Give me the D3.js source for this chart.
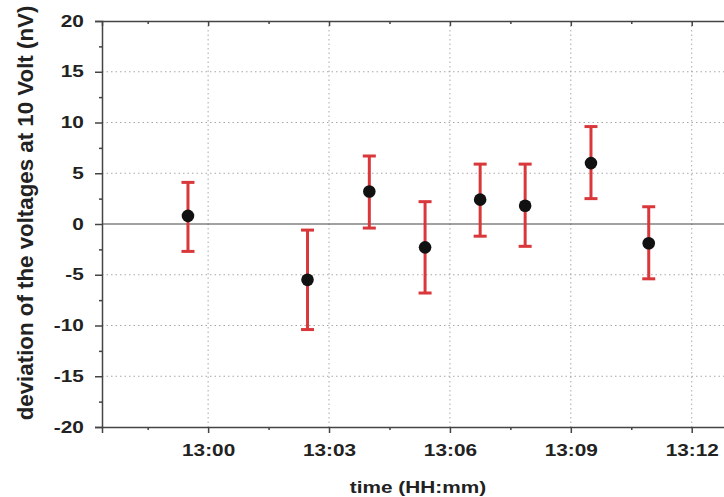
<!DOCTYPE html>
<html>
<head>
<meta charset="utf-8">
<script src="https://d3js.org/d3.v7.min.js"></script>
<style>
  body { margin: 0; background: #fff; }
  text { font-family: "Liberation Sans", Arial, sans-serif; font-weight: bold; fill: #222; }
</style>
</head>
<body>
<div id="chart"></div>
<script>
// measurement times, deviation and error bar ends (nV)
var times = ["12:59:30", "13:02:28", "13:04:00", "13:05:23", "13:06:45", "13:07:52", "13:09:30", "13:10:56"];
var values = [0.8, -5.5, 3.2, -2.3, 2.4, 1.8, 6.0, -1.9];
var upper = [4.1, -0.6, 6.7, 2.2, 5.9, 5.9, 9.6, 1.7];
var lower = [-2.7, -10.4, -0.4, -6.8, -1.2, -2.2, 2.5, -5.4];
var yTicks = [-20, -15, -10, -5, 0, 5, 10, 15, 20];
var xTickTimes = ["13:00:00", "13:03:00", "13:06:00", "13:09:00", "13:12:00"];

var width = 724, height = 497;
var margin = {left: 102, top: 21, bottom: 70};
var parse = d3.timeParse("%H:%M:%S");
var fmt = d3.timeFormat("%H:%M");
var stretch = "scale(1.3,1)";

var data = times.map(function(t, i) {
  return {t: parse(t), v: values[i], hi: upper[i], lo: lower[i]};
});

var svg = d3.select("#chart").append("svg")
  .attr("width", width)
  .attr("height", height);

// x runs a bit past the right edge of the picture
var x = d3.scaleTime()
  .domain([parse("12:57:22"), parse("13:14:00")])
  .range([margin.left, margin.left + (16 + 38 / 60) * 40.3]);
var y = d3.scaleLinear()
  .domain([-20, 20])
  .range([height - margin.bottom, margin.top]);

var majorX = xTickTimes.map(parse);
var minorX = ["12:58:30", "13:01:30", "13:04:30", "13:07:30", "13:10:30", "13:13:30"].map(parse);
var minorY = d3.range(-17.5, 20, 5);

// grid
svg.append("g").selectAll("line")
  .data(yTicks.filter(function(d) { return d !== 0 && Math.abs(d) !== 20; }))
  .enter().append("line")
  .attr("x1", margin.left).attr("x2", width)
  .attr("y1", function(d) { return y(d); }).attr("y2", function(d) { return y(d); })
  .attr("stroke", "#a8a8a8").attr("stroke-dasharray", "1.5,3");
svg.append("g").selectAll("line")
  .data(majorX)
  .enter().append("line")
  .attr("x1", function(d) { return x(d); }).attr("x2", function(d) { return x(d); })
  .attr("y1", y(20)).attr("y2", y(-20))
  .attr("stroke", "#a8a8a8").attr("stroke-dasharray", "1.5,3");

// zero line
svg.append("line")
  .attr("x1", margin.left).attr("x2", width)
  .attr("y1", y(0)).attr("y2", y(0))
  .attr("stroke", "#444").attr("stroke-width", 1.2);

// axes
svg.append("g")
  .attr("transform", "translate(0," + y(-20) + ")")
  .call(d3.axisBottom(x).tickValues(majorX).tickFormat(fmt).tickSize(6).tickPadding(12));
svg.append("g")
  .attr("transform", "translate(0," + y(-20) + ")")
  .call(d3.axisBottom(x).tickValues(minorX).tickFormat("").tickSize(3))
  .select(".domain").remove();
svg.append("g")
  .attr("transform", "translate(0," + y(20) + ")")
  .call(d3.axisBottom(x).tickValues(majorX).tickFormat("").tickSize(5));
svg.append("g")
  .attr("transform", "translate(0," + y(20) + ")")
  .call(d3.axisBottom(x).tickValues(minorX).tickFormat("").tickSize(3))
  .select(".domain").remove();
svg.append("g")
  .attr("transform", "translate(" + margin.left + ",0)")
  .call(d3.axisLeft(y).tickValues(yTicks).tickFormat(function(d) { return String(d); })
    .tickSize(7).tickPadding(7));
svg.append("g")
  .attr("transform", "translate(" + margin.left + ",0)")
  .call(d3.axisLeft(y).tickValues(minorY).tickFormat("").tickSize(3))
  .select(".domain").remove();

svg.selectAll(".domain").attr("stroke", "#444").attr("stroke-width", 1.5);
svg.selectAll(".tick line").attr("stroke", "#444").attr("stroke-width", 1.5);
svg.selectAll(".tick text")
  .attr("font-size", 16)
  .attr("font-family", "Liberation Sans, Arial, sans-serif")
  .attr("font-weight", "bold")
  .attr("fill", "#222")
  .attr("transform", stretch);

// error bars
var eb = svg.append("g").selectAll("g")
  .data(data)
  .enter().append("g")
  .attr("stroke", "#d9373a")
  .attr("stroke-width", 3);
eb.append("line")
  .attr("x1", function(d) { return x(d.t); }).attr("x2", function(d) { return x(d.t); })
  .attr("y1", function(d) { return y(d.hi); }).attr("y2", function(d) { return y(d.lo); });
eb.append("line")
  .attr("x1", function(d) { return x(d.t) - 6.5; }).attr("x2", function(d) { return x(d.t) + 6.5; })
  .attr("y1", function(d) { return y(d.hi); }).attr("y2", function(d) { return y(d.hi); });
eb.append("line")
  .attr("x1", function(d) { return x(d.t) - 6.5; }).attr("x2", function(d) { return x(d.t) + 6.5; })
  .attr("y1", function(d) { return y(d.lo); }).attr("y2", function(d) { return y(d.lo); });

// points
svg.append("g").selectAll("circle")
  .data(data)
  .enter().append("circle")
  .attr("cx", function(d) { return x(d.t); })
  .attr("cy", function(d) { return y(d.v); })
  .attr("r", 6.3)
  .attr("fill", "#111");

// axis titles
svg.append("text")
  .attr("transform", "translate(418,493) " + stretch)
  .attr("text-anchor", "middle")
  .attr("font-size", 16)
  .text("time (HH:mm)");
svg.append("text")
  .attr("transform", "translate(33,213) rotate(-90)")
  .attr("text-anchor", "middle")
  .attr("font-size", 22.3)
  .text("deviation of the voltages at 10 Volt (nV)");
</script>
</body>
</html>
